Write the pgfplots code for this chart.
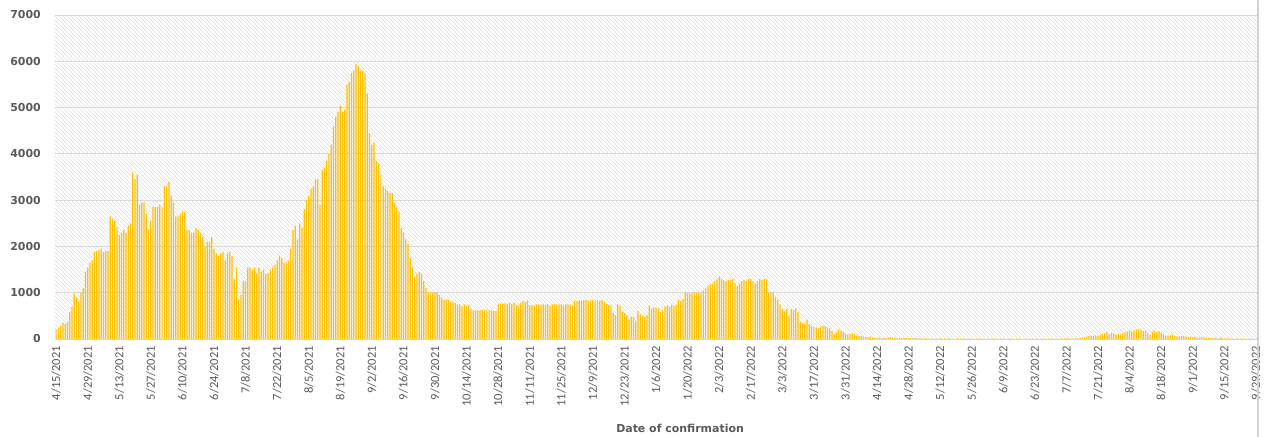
\documentclass[border=0pt]{standalone}
\usepackage{fontspec}
\usepackage{pgfplots}
\pgfplotsset{compat=1.18}
\usepackage{pgfplotstable}
\usetikzlibrary{patterns.meta}
\newfontfamily\carlito{Carlito}
\newfontfamily\dejavu{DejaVu Sans}
\definecolor{bargold}{HTML}{FFC000}
\definecolor{txtgray}{HTML}{595959}
\definecolor{gridgray}{HTML}{D9D9D9}

% daily confirmed cases, 4/15/2021 .. 9/29/2022 (533 days)
\pgfplotstableread[row sep=\\]{
cases\\
200\\240\\280\\350\\320\\370\\580\\700\\980\\900\\800\\1000\\1100\\1450\\1550\\1650\\1700\\1880\\1900\\1920\\1950\\1880\\1900\\1900\\
2650\\2600\\2550\\2420\\2250\\2300\\2350\\2300\\2450\\2500\\
3600\\3450\\3550\\2900\\2950\\2950\\2700\\2350\\2550\\2850\\
2850\\2850\\2900\\2850\\3300\\3300\\3400\\3100\\2950\\2650\\
2650\\2700\\2750\\2750\\2350\\2350\\2300\\2300\\2400\\2350\\
2300\\2200\\2000\\2100\\2100\\2200\\1950\\1850\\1800\\1850\\
1880\\1700\\1850\\1880\\1800\\1300\\1550\\850\\950\\1250\\
1250\\1550\\1550\\1500\\1550\\1400\\1550\\1450\\1500\\1400\\
1420\\1500\\1550\\1600\\1700\\1800\\1750\\1650\\1650\\1700\\
1950\\2350\\2450\\2150\\2500\\2400\\2800\\3000\\3100\\3250\\
3300\\3450\\3450\\2900\\3650\\3700\\3850\\4000\\4200\\4600\\
4800\\4900\\5050\\4900\\4950\\5500\\5550\\5750\\5800\\5950\\
5900\\5800\\5800\\5750\\5300\\4450\\4200\\4250\\3850\\3800\\
3550\\3300\\3250\\3200\\3150\\3150\\2950\\2850\\2750\\2400\\
2300\\2150\\2050\\1750\\1550\\1350\\1400\\1450\\
1400\\1250\\1100\\1000\\1000\\1000\\1000\\1000\\950\\900\\
850\\850\\850\\800\\800\\780\\750\\750\\700\\750\\
720\\730\\650\\620\\620\\620\\620\\630\\620\\640\\
630\\620\\600\\600\\750\\770\\760\\770\\760\\780\\
760\\780\\730\\720\\780\\820\\800\\830\\730\\720\\
720\\750\\740\\740\\750\\740\\750\\720\\750\\750\\
750\\740\\750\\720\\750\\750\\740\\720\\830\\830\\
830\\830\\840\\840\\830\\830\\840\\830\\840\\830\\
840\\800\\760\\730\\720\\560\\520\\750\\720\\580\\
560\\520\\420\\480\\480\\380\\600\\530\\500\\480\\
520\\720\\650\\680\\680\\660\\580\\620\\700\\720\\
700\\740\\720\\740\\850\\820\\870\\1000\\990\\980\\
990\\1000\\1000\\1000\\1000\\1050\\1100\\1150\\1180\\1200\\
1250\\1300\\1350\\1300\\1280\\1250\\1280\\1280\\1300\\1200\\
1150\\1200\\1250\\1280\\1250\\1300\\1300\\1250\\1200\\1250\\
1300\\1270\\1300\\1300\\1000\\1000\\1000\\900\\850\\750\\
650\\600\\650\\500\\640\\630\\660\\580\\
370\\350\\320\\420\\320\\290\\270\\250\\230\\270\\
290\\280\\250\\230\\170\\100\\160\\210\\180\\160\\
120\\100\\110\\120\\110\\80\\70\\60\\50\\40\\
40\\50\\30\\25\\20\\30\\30\\20\\25\\30\\
40\\25\\30\\20\\20\\25\\20\\20\\15\\20\\15\\20\\15\\20\\
12\\10\\15\\10\\8\\12\\10\\9\\14\\10\\
8\\10\\12\\9\\7\\10\\11\\8\\6\\9\\
10\\8\\7\\9\\6\\8\\10\\7\\5\\8\\
6\\7\\9\\6\\5\\7\\8\\6\\5\\6\\
7\\5\\6\\8\\5\\4\\6\\5\\7\\5\\
4\\6\\5\\8\\6\\5\\7\\9\\6\\8\\
10\\8\\12\\9\\11\\14\\10\\12\\15\\
20\\20\\20\\
30\\50\\60\\70\\60\\80\\70\\90\\110\\120\\
150\\100\\130\\120\\90\\110\\100\\120\\150\\160\\
180\\160\\190\\200\\220\\200\\170\\180\\120\\90\\
160\\180\\150\\170\\140\\100\\70\\80\\80\\100\\
60\\50\\50\\60\\70\\50\\40\\50\\40\\40\\
30\\30\\40\\30\\30\\20\\20\\20\\20\\10\\
20\\30\\10\\12\\15\\10\\8\\10\\12\\8\\6\\10\\8\\5\\7\\6\\5\\
}\cases

\begin{document}
\begin{tikzpicture}
\begin{axis}[
  scale only axis,
  width=1202bp, height=324bp,
  xmin=-0.5, xmax=532.5,
  ymin=0, ymax=7000,
  axis line style={draw=none},
  axis background/.style={fill=white, postaction={pattern={Lines[angle=-45, distance=2.8284bp, line width=0.6bp]}, pattern color=gray!25}},
  ymajorgrids,
  grid style={gridgray, line width=0.8bp},
  major tick length=0pt,
  ytick={0,1000,...,7000},
  yticklabels={0,1000,2000,3000,4000,5000,6000,7000},
  yticklabel style={font=\dejavu\bfseries\fontsize{11}{11}\selectfont, text=txtgray, inner sep=0pt, anchor=east},
  yticklabel shift=14bp,
  xtick={0,14,...,532},
  xticklabels={4/15/2021,4/29/2021,5/13/2021,5/27/2021,6/10/2021,6/24/2021,7/8/2021,7/22/2021,8/5/2021,8/19/2021,9/2/2021,9/16/2021,9/30/2021,10/14/2021,10/28/2021,11/11/2021,11/25/2021,12/9/2021,12/23/2021,1/6/2022,1/20/2022,2/3/2022,2/17/2022,3/3/2022,3/17/2022,3/31/2022,4/14/2022,4/28/2022,5/12/2022,5/26/2022,6/9/2022,6/23/2022,7/7/2022,7/21/2022,8/4/2022,8/18/2022,9/1/2022,9/15/2022,9/29/2022},
  xticklabel style={font=\carlito\fontsize{12.5}{12.5}\selectfont, text=txtgray, inner sep=0pt, rotate=90, anchor=east},
  xticklabel shift=7bp,
  xlabel={Date of confirmation},
  xlabel style={at={(axis description cs:0.52,0)}, anchor=center, yshift=-89bp,
    font=\dejavu\bfseries\fontsize{11}{11}\selectfont, text=txtgray},
]
\addplot[ybar, bar width=0.55, fill=bargold, draw=none] table[x expr=\coordindex, y=cases] {\cases};
\end{axis}
\draw[gray!35, line width=1.5bp] (1203bp,-98bp) -- (1203bp,339bp);
\pgfresetboundingbox
\path (-55bp,-98bp) rectangle (1214bp,339bp);
\end{tikzpicture}
\end{document}
